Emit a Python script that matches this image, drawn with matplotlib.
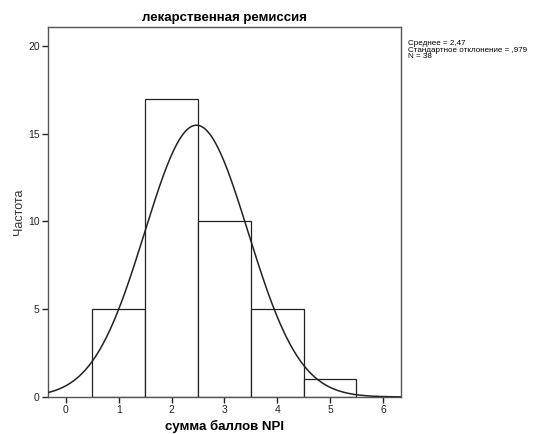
import numpy as np
import matplotlib
matplotlib.use("Agg")
import matplotlib.pyplot as plt

plt.rcParams['font.family'] = ['Liberation Sans', 'DejaVu Sans']

# гистограмма: центры интервалов и частоты
bin_centers = [1, 2, 3, 4, 5]
counts = [5, 17, 10, 5, 1]
mean_val = 2.47
sd_val = 0.979
n_val = 38

x_ticks = [0, 1, 2, 3, 4, 5, 6]
y_ticks = [0, 5, 10, 15, 20]

fig = plt.figure(figsize=(5.47, 4.34), dpi=100)
ax = fig.add_axes([0.0878, 0.0853, 0.645, 0.8525])

ax.bar(bin_centers, counts, width=1.0, color='white', edgecolor='#222222', linewidth=0.9, zorder=2)

xs = np.linspace(-0.34, 6.34, 400)
ys = n_val * 1.0 / (sd_val * np.sqrt(2 * np.pi)) * np.exp(-0.5 * ((xs - mean_val) / sd_val) ** 2)
ax.plot(xs, ys, color='#222222', linewidth=1.1, zorder=3)

ax.set_xlim(-0.34, 6.34)
ax.set_ylim(0, 21.08)
ax.set_xticks(x_ticks)
ax.set_yticks(y_ticks)
ax.tick_params(direction='out', length=4, width=1, labelsize=7.5, colors='#222222', pad=2)
for s in ax.spines.values():
    s.set_color('#555555')
    s.set_linewidth(1.0)

ax.set_title('лекарственная ремиссия', fontsize=9.5, fontweight='bold', pad=4)
ax.set_xlabel('сумма баллов NPI', fontsize=9.5, fontweight='bold', labelpad=3)
ax.set_ylabel('Частота', fontsize=9, labelpad=2, color='#333333')

fig.text(0.746, 0.908, 'Среднее = 2,47\nСтандартное отклонение = ,979\nN = 38',
         fontsize=5.8, va='top', ha='left', linespacing=0.95,
         family=['Liberation Sans Narrow', 'Liberation Sans', 'DejaVu Sans'])

fig.savefig('out.png', dpi=100)
